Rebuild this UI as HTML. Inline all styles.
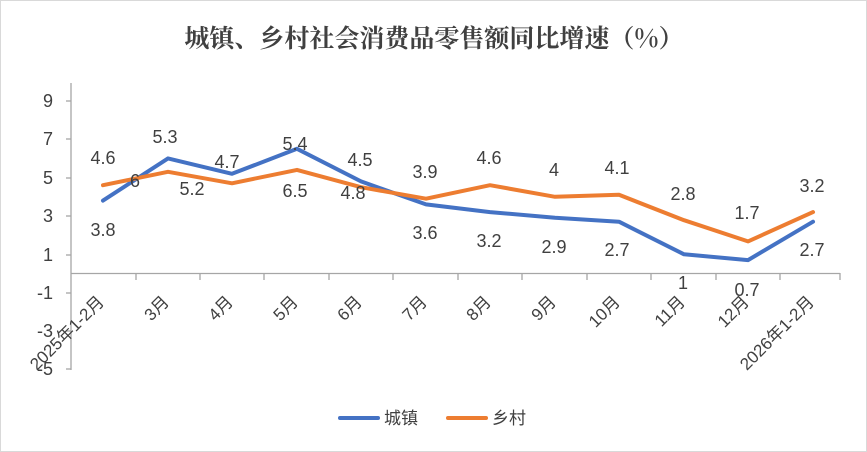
<!DOCTYPE html><html><head><meta charset="utf-8"><style>body{margin:0;background:#fff}svg{display:block}text{font-family:"Liberation Sans","Noto Sans CJK SC",sans-serif;fill:#404040}</style></head><body>
<svg width="867" height="452" viewBox="0 0 867 452">
<rect x="0.5" y="0.5" width="866" height="451" fill="#fff" stroke="#d9d9d9"/>
<text x="434" y="47" text-anchor="middle" font-size="25" font-weight="bold" style="font-family:'Noto Serif CJK SC','Noto Sans CJK SC',serif">城镇、乡村社会消费品零售额同比增速（%）</text>
<g stroke="#a6a6a6" stroke-width="1.3">
<line x1="71" y1="83" x2="71" y2="370"/>
<line x1="71" y1="273.5" x2="840" y2="273.5"/>
</g>
<g font-size="18" text-anchor="end">
<text x="53" y="107">9</text><text x="53" y="145">7</text><text x="53" y="184">5</text><text x="53" y="222">3</text><text x="53" y="261">1</text><text x="53" y="299">-1</text><text x="53" y="337">-3</text><text x="53" y="375">-5</text>
</g>
<g stroke="#a6a6a6" stroke-width="1.3">
<line x1="66" y1="101" x2="71" y2="101"/><line x1="66" y1="139" x2="71" y2="139"/><line x1="66" y1="178" x2="71" y2="178"/><line x1="66" y1="216" x2="71" y2="216"/><line x1="66" y1="255" x2="71" y2="255"/><line x1="66" y1="293" x2="71" y2="293"/><line x1="66" y1="331" x2="71" y2="331"/><line x1="66" y1="369" x2="71" y2="369"/>
<line x1="136" y1="273" x2="136" y2="280"/><line x1="200" y1="273" x2="200" y2="280"/><line x1="264" y1="273" x2="264" y2="280"/><line x1="329" y1="273" x2="329" y2="280"/><line x1="393" y1="273" x2="393" y2="280"/><line x1="458" y1="273" x2="458" y2="280"/><line x1="522" y1="273" x2="522" y2="280"/><line x1="587" y1="273" x2="587" y2="280"/><line x1="651" y1="273" x2="651" y2="280"/><line x1="716" y1="273" x2="716" y2="280"/><line x1="780" y1="273" x2="780" y2="280"/><line x1="840" y1="273" x2="840" y2="280"/>
</g>
<polyline fill="none" stroke="#4472c4" stroke-width="4" stroke-linejoin="round" stroke-linecap="round" points="103,200.6 168,158.4 232,173.8 297,148.8 361,181.4 426,204.4 490,212.1 555,217.8 619,221.7 684,254.3 748,260.1 813,221.7"/>
<polyline fill="none" stroke="#ed7d31" stroke-width="4" stroke-linejoin="round" stroke-linecap="round" points="103,185.2 168,171.8 232,183.3 297,169.9 361,187.2 426,198.7 490,185.2 555,196.8 619,194.8 684,220.2 748,241.4 813,212.1"/>
<g font-size="18" text-anchor="middle">
<text x="103" y="164">4.6</text><text x="135" y="187">6</text><text x="103" y="236">3.8</text>
<text x="165" y="143">5.3</text><text x="192" y="195">5.2</text><text x="227" y="168">4.7</text>
<text x="295" y="150">5.4</text><text x="295" y="197">6.5</text><text x="360" y="166">4.5</text><text x="353" y="199">4.8</text>
<text x="425" y="178">3.9</text><text x="425" y="239">3.6</text><text x="489" y="164">4.6</text><text x="489" y="247">3.2</text>
<text x="554" y="176">4</text><text x="554" y="253">2.9</text><text x="617" y="174">4.1</text><text x="617" y="256">2.7</text>
<text x="683" y="200">2.8</text><text x="683" y="289">1</text><text x="747" y="219">1.7</text><text x="747" y="296">0.7</text>
<text x="812" y="192">3.2</text><text x="812" y="256">2.7</text>
</g>
<g font-size="17" text-anchor="end">
<text transform="translate(105,303) rotate(-45)">2025年1-2月</text>
<text transform="translate(170,303) rotate(-45)">3月</text>
<text transform="translate(234,303) rotate(-45)">4月</text>
<text transform="translate(299,303) rotate(-45)">5月</text>
<text transform="translate(363,303) rotate(-45)">6月</text>
<text transform="translate(428,303) rotate(-45)">7月</text>
<text transform="translate(492,303) rotate(-45)">8月</text>
<text transform="translate(557,303) rotate(-45)">9月</text>
<text transform="translate(621,303) rotate(-45)">10月</text>
<text transform="translate(686,303) rotate(-45)">11月</text>
<text transform="translate(750,303) rotate(-45)">12月</text>
<text transform="translate(815,303) rotate(-45)">2026年1-2月</text>
</g>
<line x1="340" y1="418" x2="378" y2="418" stroke="#4472c4" stroke-width="4" stroke-linecap="round"/>
<text x="384" y="424" font-size="17">城镇</text>
<line x1="448" y1="418" x2="486" y2="418" stroke="#ed7d31" stroke-width="4" stroke-linecap="round"/>
<text x="492" y="424" font-size="17">乡村</text>
</svg></body></html>
